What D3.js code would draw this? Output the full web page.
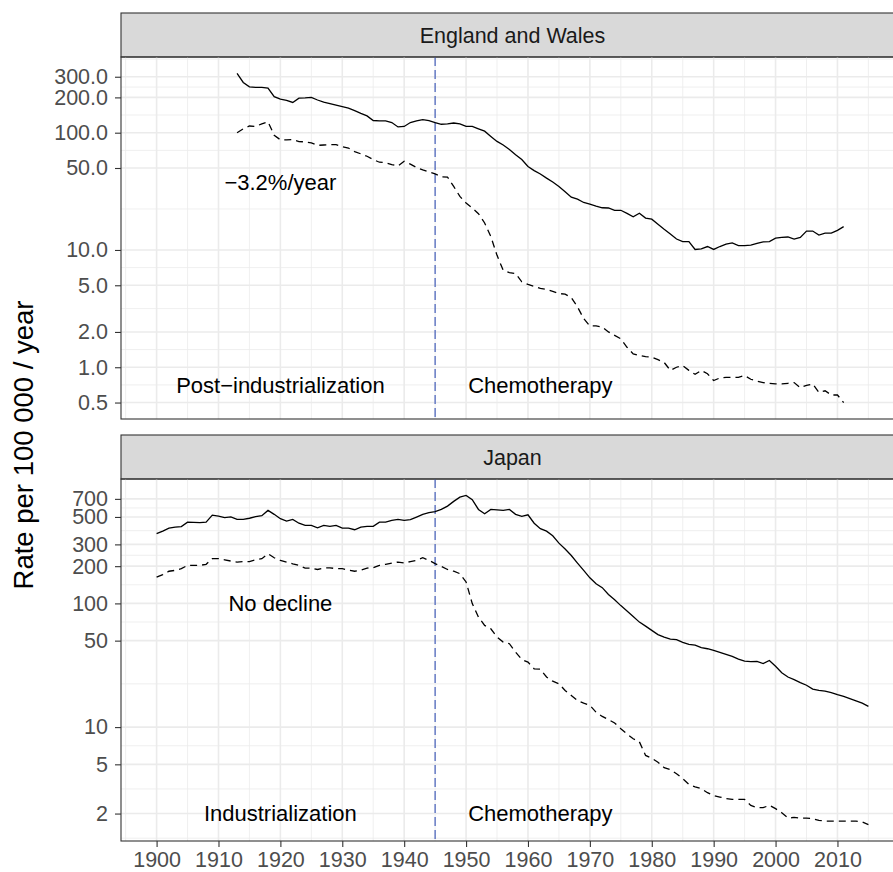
<!DOCTYPE html>
<html>
<head>
<meta charset="utf-8">
<script src="https://cdn.jsdelivr.net/npm/d3@7"></script>
<style>
  body { margin: 0; background: #fff; }
  svg text { font-family: "Liberation Sans", Arial, Helvetica, sans-serif; }
</style>
</head>
<body>
<svg id="chart" width="893" height="872"></svg>
<script>
// --- data ---
var ewStart = 1913;
var ewSolid = [320, 268, 246, 243, 243, 240, 203, 193, 189, 181, 197, 198, 200, 190, 182, 177, 172, 167, 162, 154,
  146, 139, 127, 126, 126, 122, 112, 113, 122, 126, 129, 127, 122, 118, 119, 121, 119, 113, 113, 108,
  103, 93, 84.3, 78.5, 72, 65, 59, 51.5, 47.5, 44.5, 41, 38, 34.8, 31.4, 28.2, 27.1, 25.4, 24.6, 23.7, 22.9,
  22.8, 21.8, 21.8, 20.5, 19.2, 20.6, 18.7, 18.3, 16.6, 15.0, 13.7, 12.4, 11.8, 11.8, 10.1, 10.2, 10.7, 10.1, 10.7, 11.2,
  11.5, 10.9, 10.9, 11.0, 11.4, 11.7, 11.8, 12.6, 12.8, 12.9, 12.4, 12.8, 14.5, 14.5, 13.4, 13.9, 13.9, 14.7, 15.8];
var ewDashed = [100, 108, 114, 113, 119, 124, 95, 87, 87, 87.5, 84, 83.5, 82, 78, 78.5, 79, 79, 76, 74, 69,
  66, 63, 59, 56, 55.5, 53.5, 52, 57, 54, 50.5, 48.2, 46.3, 44.5, 42, 41.8, 34.8, 28.6, 25.1, 22.8, 20.4,
  17, 13, 9.0, 6.7, 6.4, 6.3, 5.35, 5.08, 4.9, 4.7, 4.6, 4.43, 4.25, 4.2, 3.93, 3.27, 2.6, 2.25, 2.25, 2.2,
  2.0, 1.87, 1.75, 1.48, 1.30, 1.26, 1.23, 1.22, 1.16, 1.10, 0.94, 1.0, 1.03, 0.94, 0.87, 0.94, 0.88, 0.77, 0.81, 0.82,
  0.82, 0.82, 0.85, 0.79, 0.76, 0.74, 0.73, 0.72, 0.72, 0.73, 0.74, 0.67, 0.70, 0.72, 0.61, 0.63, 0.58, 0.58, 0.50];

var jpStart = 1900;
var jpSolid = [366, 384, 406, 414, 418, 454, 452, 450, 454, 517, 508, 493, 500, 478, 478, 488, 503, 512, 565, 525,
  484, 463, 478, 445, 427, 427, 409, 427, 420, 427, 406, 406, 394, 414, 420, 420, 454, 454, 469, 478,
  469, 475, 499, 525, 541, 552, 575, 612, 668, 723, 746, 689, 575, 531, 575, 570, 565, 575, 525, 505,
  520, 445, 402, 384, 352, 307, 275, 244, 212, 185, 161, 144, 134, 118, 107, 96, 87, 78.5, 70.6, 65.5,
  60.5, 56, 53.4, 51.4, 51, 48.4, 46.7, 46, 43.9, 43, 41.7, 40.2, 38.7, 37.3, 35.5, 34.2, 33.8, 34, 32.6, 34.6,
  31, 27.5, 25.4, 24.2, 22.9, 21.8, 20.3, 19.8, 19.5, 19.0, 18.3, 17.7, 17.0, 16.3, 15.6, 14.7];
var jpDashed = [163, 171, 182, 185, 191, 203, 203, 203, 207, 230, 230, 225, 220, 216, 218, 218, 225, 230, 252, 234,
  223, 216, 209, 203, 193, 193, 188, 193, 194, 191, 191, 186, 182, 186, 193, 194, 203, 207, 212, 216,
  212, 218, 223, 234, 223, 210, 199, 188, 182, 174, 149, 99.6, 77.5, 66.4, 62.4, 53.4, 48.7, 47.2, 40.4, 35.2,
  33.5, 29.6, 29.4, 25.4, 23.5, 22.4, 19.8, 18.0, 16.4, 15.6, 15.0, 13.2, 12.2, 11.5, 10.8, 9.7, 8.8, 8.05, 7.6, 5.9,
  5.6, 5.2, 4.7, 4.53, 4.2, 3.83, 3.44, 3.29, 3.18, 2.95, 2.8, 2.72, 2.64, 2.6, 2.6, 2.6, 2.33, 2.23, 2.23, 2.33,
  2.19, 2.03, 1.84, 1.86, 1.84, 1.84, 1.82, 1.76, 1.74, 1.74, 1.74, 1.74, 1.74, 1.74, 1.71, 1.63];

var xTicks = [1900, 1910, 1920, 1930, 1940, 1950, 1960, 1970, 1980, 1990, 2000, 2010];
var ewTicks = [0.5, 1, 2, 5, 10, 50, 100, 200, 300];
var jpTicks = [2, 5, 10, 50, 100, 200, 300, 500, 700];
var cutYear = 1945;
var ewNotes = [{ year: 1920, value: 38, text: "\u22123.2%/year" },
               { year: 1920, value: 0.7, text: "Post\u2212industrialization" },
               { year: 1962, value: 0.7, text: "Chemotherapy" }];
var jpNotes = [{ year: 1920, value: 100, text: "No decline" },
               { year: 1920, value: 2, text: "Industrialization" },
               { year: 1962, value: 2, text: "Chemotherapy" }];

// --- layout ---
var svg = d3.select("#chart");
var LEFT = 121, RIGHT = 904, STRIP = 44;
var GRID = "#EBEBEB", FRAME = "#333333";

var firstYear = Math.min(ewStart, jpStart), lastYear = jpStart + jpSolid.length - 1;
var xPad = (lastYear - firstYear) * 0.05;
var xScale = d3.scaleLinear().domain([firstYear - xPad, lastYear + xPad]).range([LEFT, RIGHT]);

function toSeries(start, values) {
  return values.map(function(v, i) { return { year: start + i, value: v }; });
}

function drawPanel(top, bottom, title, start, solid, dashed, ticks, fmt, notes, showX) {
  var all = solid.concat(dashed);
  var lo = Math.log10(d3.min(all)), hi = Math.log10(d3.max(all));
  var pad = (hi - lo) * 0.05;
  var yScale = d3.scaleLog().domain([Math.pow(10, lo - pad), Math.pow(10, hi + pad)]).range([bottom, top]);

  var g = svg.append("g");
  var clipId = "clip" + Math.round(top);
  g.append("clipPath").attr("id", clipId).append("rect")
    .attr("x", LEFT).attr("y", top).attr("width", RIGHT - LEFT).attr("height", bottom - top);

  // strip
  g.append("rect").attr("x", LEFT).attr("y", top - STRIP).attr("width", RIGHT - LEFT).attr("height", STRIP)
    .attr("fill", "#D9D9D9").attr("stroke", FRAME).attr("stroke-width", 1.1);
  g.append("text").attr("x", (LEFT + RIGHT) / 2).attr("y", top - STRIP / 2).attr("dy", "0.35em")
    .attr("text-anchor", "middle").attr("font-size", 21.5).attr("fill", "#1A1A1A").text(title);

  var grid = g.append("g").attr("clip-path", "url(#" + clipId + ")");

  // minor grid (midpoints in log space, ggplot style)
  var lb = ticks.map(Math.log10);
  var step = lb[1] - lb[0];
  var ext = [lb[0] - step].concat(lb, [lb[lb.length - 1] + step]);
  var yMinor = [];
  for (var i = 0; i < ext.length - 1; i++) yMinor.push(Math.pow(10, (ext[i] + ext[i + 1]) / 2));
  var xMinor = d3.range(1895, 2025, 10);

  grid.selectAll(".ymin").data(yMinor).enter().append("line")
    .attr("x1", LEFT).attr("x2", RIGHT)
    .attr("y1", function(d) { return yScale(d); }).attr("y2", function(d) { return yScale(d); })
    .attr("stroke", GRID).attr("stroke-width", 0.8);
  grid.selectAll(".xmin").data(xMinor).enter().append("line")
    .attr("y1", top).attr("y2", bottom)
    .attr("x1", function(d) { return xScale(d); }).attr("x2", function(d) { return xScale(d); })
    .attr("stroke", GRID).attr("stroke-width", 0.8);
  grid.selectAll(".ymaj").data(ticks).enter().append("line")
    .attr("x1", LEFT).attr("x2", RIGHT)
    .attr("y1", function(d) { return yScale(d); }).attr("y2", function(d) { return yScale(d); })
    .attr("stroke", GRID).attr("stroke-width", 1.6);
  grid.selectAll(".xmaj").data(xTicks.concat([2020])).enter().append("line")
    .attr("y1", top).attr("y2", bottom)
    .attr("x1", function(d) { return xScale(d); }).attr("x2", function(d) { return xScale(d); })
    .attr("stroke", GRID).attr("stroke-width", 1.6);

  // 1945 marker
  g.append("line").attr("x1", xScale(cutYear)).attr("x2", xScale(cutYear)).attr("y1", top).attr("y2", bottom)
    .attr("stroke", "#5B72C0").attr("stroke-width", 1.4).attr("stroke-dasharray", "9,4");

  var line = d3.line()
    .x(function(d) { return xScale(d.year); })
    .y(function(d) { return yScale(d.value); });

  g.append("path").attr("d", line(toSeries(start, solid)))
    .attr("fill", "none").attr("stroke", "#000").attr("stroke-width", 1.3);
  g.append("path").attr("d", line(toSeries(start, dashed)))
    .attr("fill", "none").attr("stroke", "#000").attr("stroke-width", 1.3).attr("stroke-dasharray", "7,5");

  g.selectAll(".note").data(notes).enter().append("text")
    .attr("x", function(d) { return xScale(d.year); })
    .attr("y", function(d) { return yScale(d.value); })
    .attr("dy", "0.35em").attr("text-anchor", "middle").attr("font-size", 22).attr("fill", "#000")
    .text(function(d) { return d.text; });

  // frame
  g.append("rect").attr("x", LEFT).attr("y", top).attr("width", RIGHT - LEFT).attr("height", bottom - top)
    .attr("fill", "none").attr("stroke", FRAME).attr("stroke-width", 1.1);

  var yAxis = d3.axisLeft(yScale).tickValues(ticks).tickFormat(fmt).tickSize(6).tickPadding(7);
  var ya = g.append("g").attr("transform", "translate(" + LEFT + ",0)").call(yAxis);
  ya.select(".domain").remove();
  ya.selectAll("line").attr("stroke", FRAME).attr("stroke-width", 1.1);
  ya.selectAll("text").attr("font-size", 21.5).attr("fill", "#4D4D4D")
    .style("font-family", "'Liberation Sans', Arial, Helvetica, sans-serif");

  if (showX) {
    var xAxis = d3.axisBottom(xScale).tickValues(xTicks).tickFormat(d3.format("d")).tickSize(6).tickPadding(5);
    var xa = g.append("g").attr("transform", "translate(0," + bottom + ")").call(xAxis);
    xa.select(".domain").remove();
    xa.selectAll("line").attr("stroke", FRAME).attr("stroke-width", 1.1);
    xa.selectAll("text").attr("font-size", 21.5).attr("fill", "#4D4D4D")
      .style("font-family", "'Liberation Sans', Arial, Helvetica, sans-serif");
  }
}

drawPanel(57, 419, "England and Wales", ewStart, ewSolid, ewDashed, ewTicks, d3.format(".1f"), ewNotes, false);
drawPanel(479, 841, "Japan", jpStart, jpSolid, jpDashed, jpTicks, d3.format("d"), jpNotes, true);

svg.append("text")
  .attr("transform", "translate(33,445) rotate(-90)")
  .attr("text-anchor", "middle").attr("font-size", 27.5).attr("fill", "#000")
  .text("Rate per 100 000 / year");
</script>
</body>
</html>
